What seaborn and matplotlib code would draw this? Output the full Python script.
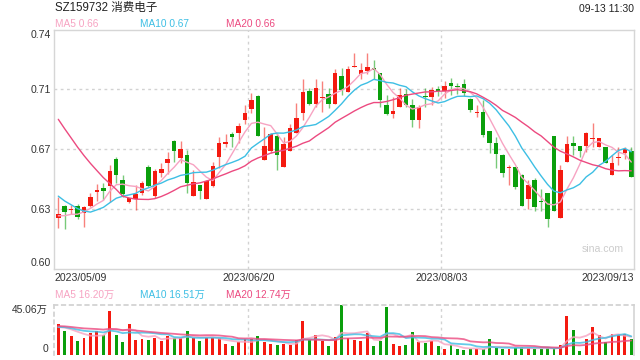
import numpy as np
import pandas as pd
import matplotlib
matplotlib.use('Agg')
import matplotlib.pyplot as plt
import seaborn as sns

# ---------------- data ----------------
OPEN = [0.6294, 0.6366, 0.6340, 0.6366, 0.6323, 0.6366, 0.6450, 0.6473, 0.6483, 0.6641,
        0.6518, 0.6391, 0.6407, 0.6440, 0.6593, 0.6425, 0.6561, 0.6616, 0.6747, 0.6646,
        0.6665, 0.6426, 0.6489, 0.6407, 0.6485, 0.6655, 0.6729, 0.6788, 0.6795, 0.6870,
        0.6934, 0.7010, 0.6636, 0.6690, 0.6776, 0.6596, 0.6690, 0.6795, 0.6913, 0.7040,
        0.6962, 0.7000, 0.7022, 0.6964, 0.7128, 0.7036, 0.7183, 0.7138, 0.7159, 0.7173,
        0.7143, 0.6958, 0.6903, 0.6948, 0.7022, 0.6958, 0.6870, 0.7010, 0.7006, 0.7051,
        0.7041, 0.7085, 0.7067, 0.7081, 0.6991, 0.6911, 0.6918, 0.6805, 0.6737, 0.6665,
        0.6591, 0.6593, 0.6548, 0.6407, 0.6518, 0.6397, 0.6444, 0.6776, 0.6294, 0.6626,
        0.6737, 0.6718, 0.6719, 0.6756, 0.6713, 0.6710, 0.6548, 0.6647, 0.6675, 0.6690]
HIGH = [0.6416, 0.6370, 0.6370, 0.6376, 0.6366, 0.6440, 0.6493, 0.6499, 0.6606, 0.6651,
        0.6548, 0.6415, 0.6489, 0.6513, 0.6606, 0.6581, 0.6616, 0.6681, 0.6750, 0.6747,
        0.6692, 0.6577, 0.6489, 0.6518, 0.6626, 0.6768, 0.6786, 0.6798, 0.6851, 0.6958,
        0.7026, 0.7016, 0.6831, 0.6792, 0.6792, 0.6772, 0.6845, 0.6971, 0.7108, 0.7059,
        0.7110, 0.7098, 0.7059, 0.7167, 0.7173, 0.7186, 0.7261, 0.7202, 0.7261, 0.7221,
        0.7143, 0.7016, 0.7003, 0.7059, 0.7050, 0.6991, 0.6958, 0.7056, 0.7065, 0.7069,
        0.7098, 0.7118, 0.7088, 0.7108, 0.6997, 0.6958, 0.6987, 0.6805, 0.6768, 0.6671,
        0.6606, 0.6596, 0.6553, 0.6518, 0.6528, 0.6464, 0.6444, 0.6776, 0.6606, 0.6776,
        0.6776, 0.6718, 0.6798, 0.6854, 0.6766, 0.6714, 0.6665, 0.6713, 0.6713, 0.6713]
LOW = [0.6240, 0.6230, 0.6320, 0.6290, 0.6245, 0.6360, 0.6395, 0.6400, 0.6391, 0.6503,
       0.6420, 0.6385, 0.6343, 0.6430, 0.6476, 0.6415, 0.6538, 0.6552, 0.6626, 0.6616,
       0.6444, 0.6426, 0.6407, 0.6407, 0.6479, 0.6587, 0.6710, 0.6713, 0.6733, 0.6845,
       0.6909, 0.6778, 0.6636, 0.6675, 0.6577, 0.6596, 0.6690, 0.6795, 0.6870, 0.6958,
       0.6948, 0.6918, 0.6938, 0.6964, 0.7016, 0.7036, 0.7182, 0.7108, 0.7138, 0.7110,
       0.6948, 0.6899, 0.6880, 0.6948, 0.6948, 0.6831, 0.6825, 0.6948, 0.6958, 0.7010,
       0.6997, 0.7016, 0.7022, 0.7010, 0.6918, 0.6889, 0.6772, 0.6675, 0.6587, 0.6538,
       0.6489, 0.6464, 0.6366, 0.6348, 0.6337, 0.6337, 0.6245, 0.6339, 0.6294, 0.6626,
       0.6665, 0.6655, 0.6684, 0.6713, 0.6713, 0.6616, 0.6548, 0.6606, 0.6640, 0.6534]
CLOSE = [0.6319, 0.6333, 0.6350, 0.6303, 0.6358, 0.6417, 0.6460, 0.6456, 0.6571, 0.6549,
         0.6435, 0.6413, 0.6436, 0.6503, 0.6483, 0.6573, 0.6583, 0.6641, 0.6688, 0.6700,
         0.6500, 0.6508, 0.6456, 0.6512, 0.6600, 0.6737, 0.6743, 0.6772, 0.6835, 0.6913,
         0.6987, 0.6778, 0.6718, 0.6788, 0.6665, 0.6729, 0.6821, 0.6880, 0.7036, 0.6964,
         0.7056, 0.7006, 0.6962, 0.7147, 0.7046, 0.7169, 0.7186, 0.7163, 0.7179, 0.7163,
         0.6987, 0.6903, 0.6923, 0.7016, 0.6958, 0.6870, 0.6948, 0.7003, 0.7046, 0.7041,
         0.7069, 0.7071, 0.7063, 0.7026, 0.6928, 0.6915, 0.6782, 0.6737, 0.6671, 0.6561,
         0.6593, 0.6476, 0.6366, 0.6489, 0.6358, 0.6388, 0.6288, 0.6339, 0.6577, 0.6729,
         0.6719, 0.6688, 0.6792, 0.6758, 0.6763, 0.6620, 0.6616, 0.6650, 0.6698, 0.6534]
# volume in 万
VOLUME = [27.8, 21.7, 16.8, 12.3, 15.0, 19.8, 21.7, 17.8, 39.9, 17.8,
          11.7, 27.8, 13.5, 14.4, 13.5, 15.3, 12.6, 17.1, 14.7, 14.7,
          21.4, 15.3, 12.3, 15.3, 14.7, 14.7, 9.3, 7.7, 11.7, 14.1,
          14.1, 16.8, 11.4, 9.6, 8.6, 9.6, 8.6, 13.2, 30.5, 13.2,
          17.8, 12.6, 7.7, 16.2, 45.06, 14.7, 13.2, 12.3, 19.8, 7.7,
          12.3, 43.5, 9.6, 7.7, 8.6, 20.8, 11.1, 10.2, 12.6, 7.7,
          5.0, 8.6, 4.7, 4.1, 5.0, 5.0, 5.0, 14.1, 6.2, 5.0,
          4.6, 6.1, 7.1, 6.1, 4.6, 4.6, 6.1, 6.1, 9.1, 35.5,
          22.6, 3.5, 14.4, 25.3, 18.1, 11.6, 18.9, 18.0, 18.4, 14.3]
# sessions before 2023/05/09, estimated from where the MA lines start
PRE_CLOSE = [0.745, 0.742, 0.738, 0.735, 0.733, 0.730, 0.728, 0.726, 0.724, 0.723,
             0.662, 0.657, 0.653, 0.650, 0.6475, 0.633, 0.631, 0.630, 0.6285]
PRE_VOLUME = [27, 28, 26, 27, 26, 28, 27, 26, 27, 25, 24, 26, 25, 26, 25, 24, 25, 23, 25]
# values printed in the legend rows
PRICE_MA_LAST = [0.66, 0.67, 0.66]
VOL_MA_LAST = [16.20, 16.51, 12.74]

DATE_LABELS = ['2023/05/09', '2023/06/20', '2023/08/03', '2023/09/13']
DATE_IDX = [0, 30, 60, 89]
PRICE_TICKS = [0.60, 0.635, 0.67, 0.705, 0.74]
PRICE_LABELS = ['0.60', '0.63', '0.67', '0.71', '0.74']
VOL_MAX = 45.06

RED = '#f41a10'
GREEN = '#0a9f0c'
C_MA5 = '#f7a3c2'
C_MA10 = '#3dbfe4'
C_MA20 = '#ec4a80'
GRID = '#d2d2d2'
TXT = '#333333'

# ---------------- prepare ----------------
df = pd.DataFrame({'open': OPEN, 'high': HIGH, 'low': LOW, 'close': CLOSE, 'vol': VOLUME})
df['idx'] = np.arange(len(df))
npre = len(PRE_CLOSE)
all_close = pd.Series(PRE_CLOSE + CLOSE)
all_vol = pd.Series(PRE_VOLUME + VOLUME)
for n in (5, 10, 20):
    df[f'ma{n}'] = all_close.rolling(n).mean().iloc[npre:].values
    df[f'vma{n}'] = all_vol.rolling(n).mean().iloc[npre:].values
df['color'] = np.where(df['close'] >= df['open'], RED, GREEN)

sns.set_theme(style='white')
plt.rcParams['font.family'] = ['Liberation Sans', 'Noto Sans CJK SC', 'DejaVu Sans']

W, H = 640, 360
fig = plt.figure(figsize=(6.4, 3.6), dpi=100)
L, R = 54.3, 634.3
ax = fig.add_axes([L / W, 1 - 268.5 / H, (R - L) / W, 239 / H])
axv = fig.add_axes([L / W, 1 - 354.5 / H, (R - L) / W, 49.5 / H])
XLIM = (-0.62, 89.47)

# ---------------- candles ----------------
ax.vlines(df['idx'], df['low'], df['high'], colors=df['color'], lw=1, alpha=0.55, zorder=2)
body_h = np.maximum((df['close'] - df['open']).abs(), 0.0006)
body_b = np.minimum(df['open'], df['close'])
ax.bar(df['idx'], body_h, bottom=body_b, width=0.7, color=df['color'], lw=0, zorder=2)

for col, c in (('ma5', C_MA5), ('ma10', C_MA10), ('ma20', C_MA20)):
    sns.lineplot(data=df, x='idx', y=col, ax=ax, color=c, lw=1.0, zorder=3)

ax.set_xlim(*XLIM)
ax.set_ylim(0.60, 0.74)
for v in PRICE_TICKS[1:-1]:
    ax.axhline(v, color=GRID, lw=1, ls=(0, (2, 2.5)), zorder=1)
for i in DATE_IDX[1:-1]:
    ax.axvline(i - 0.5, color=GRID, lw=1, ls=(0, (2, 2.5)), zorder=1)
    axv.axvline(i - 0.5, color=GRID, lw=1, ls=(0, (2, 2.5)), zorder=1)

ax.set_yticks(PRICE_TICKS, PRICE_LABELS)
ylabs = ax.get_yticklabels()
ylabs[0].set_va('bottom')
ylabs[-1].set_va('top')
ax.tick_params(axis='y', length=0, pad=2.4, labelsize=7.6, labelcolor=TXT)

ax.set_xticks([XLIM[0], DATE_IDX[1] - 0.5, DATE_IDX[2] - 0.5, XLIM[1]], DATE_LABELS)
xlabs = ax.get_xticklabels()
xlabs[0].set_ha('left')
xlabs[-1].set_ha('right')
ax.tick_params(axis='x', length=0, pad=3.5, labelsize=7.6, labelcolor=TXT)
ax.set_xlabel('')
ax.set_ylabel('')
for s in ax.spines.values():
    s.set_color('#d6d6d6')
    s.set_linewidth(1)

# ---------------- volume ----------------
axv.bar(df['idx'], df['vol'], width=0.45, color=df['color'], lw=0, zorder=2)
for col, c in (('vma5', C_MA5), ('vma10', C_MA10), ('vma20', C_MA20)):
    sns.lineplot(data=df, x='idx', y=col, ax=axv, color=c, lw=1.3, alpha=0.8, zorder=3)
axv.set_xlim(*XLIM)
axv.set_ylim(0, VOL_MAX)
axv.set_xticks([])
axv.set_yticks([0, VOL_MAX], ['0', f'{VOL_MAX:.2f}万'])
vlabs = axv.get_yticklabels()
vlabs[0].set_va('bottom')
vlabs[-1].set_va('top')
axv.tick_params(axis='y', length=0, pad=4.5, labelsize=7.4, labelcolor=TXT)
axv.set_xlabel('')
axv.set_ylabel('')
axv.spines['bottom'].set_visible(False)
for k in ('top', 'left'):
    axv.spines[k].set_color(GRID)
    axv.spines[k].set_linestyle((0, (2, 2.5)))
axv.spines['right'].set_color('#d6d6d6')

# ---------------- texts ----------------
def ftext(x, y, s, **kw):
    fig.text(x / W, 1 - y / H, s, va='center', **kw)

ftext(55, 7.5, 'SZ159732 消费电子', ha='left', fontsize=8.3, color='#222222')
ftext(634, 8.5, '09-13 11:30', ha='right', fontsize=7.5, color='#222222')
ma_names = ['MA5', 'MA10', 'MA20']
ma_cols = [C_MA5, C_MA10, C_MA20]
ma_x = [55, 140.5, 225.5]
for name, c, x, p, v in zip(ma_names, ma_cols, ma_x, PRICE_MA_LAST, VOL_MA_LAST):
    ftext(x, 24, f'{name} {p:.2f}', ha='left', fontsize=7.3, color=c)
    ftext(x, 294.5, f'{name} {v:.2f}万', ha='left', fontsize=7.3, color=c)
ftext(602.5, 249.5, 'sina.com', ha='center', fontsize=7.6, color='#cccccc')

fig.savefig('out.png', dpi=100)
